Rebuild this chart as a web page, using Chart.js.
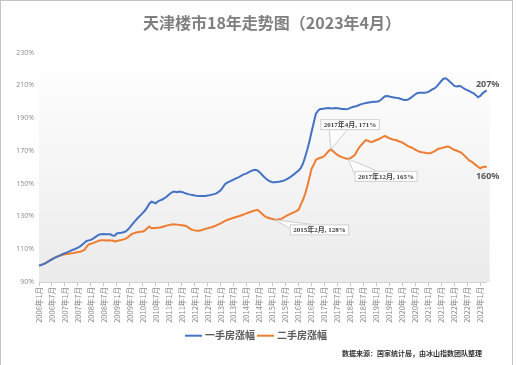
<!DOCTYPE html>
<html>
<head>
<meta charset="utf-8">
<script src="https://cdn.jsdelivr.net/npm/chart.js@4"></script>
<style>
  html, body { margin: 0; padding: 0; background: #fff; }
  #wrap { position: absolute; left: 0; top: 0; width: 513px; height: 366px; box-sizing: border-box; border: 1px solid #c4c4c4; }
  #box { position: relative; width: 511px; height: 364px; }
</style>
</head>
<body>
<div id="wrap"><div id="box"><canvas id="trendChart"></canvas></div></div>
<script>
// months 2006年1月 .. 2023年4月
var months = [];
for (var y = 2006; y <= 2023; y++) {
    for (var m = 1; m <= 12; m++) {
        if (y == 2023 && m > 4) break;
        months.push(y + "年" + m + "月");
    }
}

var yTicks = [90, 110, 130, 150, 170, 190, 210, 230];

// 一手房涨幅 (%), monthly, one row per year
var newHome = [
    100, 100.4, 100.9, 101.4, 102.2, 103, 103.8, 104.6, 105.2, 105.8, 106.4, 107.1,
    107.6, 108.1, 108.7, 109.3, 109.8, 110.4, 111, 111.7, 112.8, 114, 115, 115.4,
    115.7, 116.5, 117.4, 118.3, 119, 119.2, 119.3, 119.2, 119.2, 119.1, 118.4, 118.2,
    119.6, 119.9, 120.1, 120.4, 120.8, 121.8, 123.3, 125, 126.5, 128, 129.5, 130.8,
    132.2, 133.6, 135.5, 137.8, 139, 138.5, 138, 139.2, 139.8, 140.3, 141.2, 142,
    143.2, 144.3, 145, 145.1, 144.8, 145.2, 144.9, 144.5, 144, 143.6, 143.3, 143.1,
    142.8, 142.6, 142.5, 142.4, 142.5, 142.5, 142.7, 143, 143.3, 143.6, 144.1, 145,
    146, 147.7, 149.6, 150.6, 151.2, 151.8, 152.4, 153.2, 153.7, 154.5, 155.2, 155.8,
    156.3, 157, 157.6, 158.2, 158.4, 158.1, 157, 155.6, 154.2, 153, 152, 151.3,
    150.9, 150.8, 151, 151.2, 151.5, 151.8, 152.3, 153, 153.8, 154.8, 155.8, 157,
    157.9, 159.5, 162, 166, 170.5, 175.5, 181.5, 187, 192.5, 194.5, 195.5, 195.6,
    195.9, 196, 196.1, 195.8, 196, 196.1, 196, 195.8, 195.5, 195.6, 195.4, 195.6,
    196.2, 196.8, 197, 197.4, 198, 198.5, 198.8, 199.2, 199.4, 199.6, 199.8, 200,
    200, 200.2, 201, 202.2, 203.3, 203.5, 203.2, 202.8, 202.6, 202.4, 202.3, 201.8,
    201.3, 201, 201, 201.6, 202.5, 203.5, 204.5, 205.3, 205.5, 205.4, 205.5, 205.6,
    206, 206.8, 207.6, 208.2, 209.5, 211, 212.6, 214, 214.3, 213.4, 212.2, 211,
    209.6, 209.3, 209.6, 209.4, 208.5, 207.7, 207.1, 206.4, 205.7, 205.1, 204, 202.7,
    203.5, 205, 206, 207
];

// 二手房涨幅 (%)
var resale = [
    100, 100.4, 100.9, 101.6, 102.4, 103.2, 104, 104.7, 105.3, 105.8, 106.2, 106.6,
    106.9, 107.1, 107.3, 107.5, 107.7, 108, 108.3, 108.5, 109, 109.6, 111.5, 113,
    113.3, 113.7, 114.3, 114.8, 115.3, 115.4, 115.4, 115.3, 115.4, 115.3, 115.3, 114.7,
    115, 115.3, 115.6, 116, 116.3, 117.2, 118.3, 119.3, 119.8, 120.2, 120.5, 120.7,
    120.8, 121.5, 122.8, 123.8, 122.8, 122.9, 123, 123.1, 123.2, 123.6, 124, 124.4,
    124.7, 125, 125.2, 125.1, 125, 124.8, 124.6, 124.4, 124.2, 123.3, 122.3, 121.8,
    121.5, 121.2, 121.3, 121.6, 122, 122.4, 122.8, 123.2, 123.4, 124, 124.5, 125.2,
    125.8, 126.5, 127.3, 127.8, 128.3, 128.7, 129.2, 129.6, 129.9, 130.4, 130.9, 131.4,
    131.9, 132.4, 132.9, 133.3, 133.7, 134, 133, 131.8, 130.6, 129.6, 129.2, 128.7,
    128.5, 128, 128.1, 128.3, 128.5, 129.2, 130, 130.8, 131.4, 132, 132.6, 133.2,
    134, 137, 140, 143.5, 148.2, 153.5, 159, 161.5, 164.4, 165.3, 165.8, 166.1,
    167, 168.5, 170, 171, 169.8, 168.5, 167.6, 166.8, 166.2, 165.7, 165.3, 165,
    165.5, 166.5, 167.5, 169.8, 172, 173.6, 175, 176.6, 176.2, 175.6, 175.4, 176,
    176.6, 177.1, 177.8, 178.5, 179.1, 178.3, 177.7, 177.2, 176.8, 176.6, 176, 175.6,
    175, 174.2, 173.4, 172.6, 172.2, 171.5, 170.8, 170, 169.5, 169.2, 169, 168.7,
    168.5, 168.6, 169.2, 169.9, 170.7, 171.4, 171.6, 172, 172.3, 172.6, 172.2, 171.3,
    170.5, 170.2, 169.6, 169.1, 168, 166.7, 165.4, 164, 163.4, 162.4, 161.3, 160.3,
    159.4, 160, 160.4, 160
];

// callouts on the resale line: [month index, placement]
var callouts = [
    { idx: 135, dx: -10.7, dy: -30, a: -1.7, b: 16, side: "above" },
    { idx: 143, dx: 6.3, dy: 11.7, side: "right" },
    { idx: 109, dx: 15, dy: 4.7, side: "right" }
];

var BLUE = "#4472C4";
var ORANGE = "#ED7D31";
var CJK = "'Noto Sans CJK SC', 'Noto Sans', sans-serif";

Chart.defaults.font.family = CJK;

var decorPlugin = {
    id: "decor",
    beforeDatasetsDraw: function(chart) {
        var ctx = chart.ctx, a = chart.chartArea;
        var g = ctx.createLinearGradient(0, a.top, 0, a.bottom);
        g.addColorStop(0, "#ffffff");
        g.addColorStop(1, "#ebebeb");
        ctx.save();
        ctx.fillStyle = g;
        ctx.fillRect(a.left, a.top - 8, a.right - a.left + 3, a.bottom - a.top + 8);
        ctx.restore();
    },
    afterDraw: function(chart) {
        var ctx = chart.ctx;
        var xs = chart.scales.x, ys = chart.scales.y;
        ctx.save();

        // title
        ctx.fillStyle = "#7f7f7f";
        ctx.font = "bold 16px " + CJK;
        ctx.textAlign = "center";
        ctx.textBaseline = "middle";
        ctx.fillText("天津楼市18年走势图（2023年4月）", 271, 22);

        // end labels
        var last = newHome.length - 1;
        ctx.fillStyle = "#595959";
        ctx.font = "bold 9px 'Noto Sans', sans-serif";
        ctx.fillText(newHome[last] + "%", xs.getPixelForValue(last) + 1, ys.getPixelForValue(newHome[last]) - 6);
        ctx.fillText(resale[last] + "%", xs.getPixelForValue(last) + 1, ys.getPixelForValue(resale[last]) + 9);

        // callouts
        ctx.font = "bold 7px 'Liberation Serif', " + CJK;
        callouts.forEach(function(c) {
            var px = xs.getPixelForValue(c.idx), py = ys.getPixelForValue(resale[c.idx]);
            var text = months[c.idx] + ", " + resale[c.idx] + "%";
            var w = ctx.measureText(text).width + 7, h = 11;
            var bx = px + c.dx, by = py + c.dy;
            var p1, p2;
            if (c.side == "above") {
                p1 = [px + c.a, by + h];
                p2 = [px + c.b, by + h];
            } else {
                p1 = [bx, by + 4];
                p2 = [bx + 22, by];
            }
            ctx.beginPath();
            ctx.moveTo(p1[0], p1[1]);
            ctx.lineTo(px, py);
            ctx.lineTo(p2[0], p2[1]);
            ctx.fillStyle = "rgba(255,255,255,0.7)";
            ctx.fill();
            ctx.strokeStyle = "#c3c3c3";
            ctx.lineWidth = 0.8;
            ctx.stroke();
            ctx.fillStyle = "#ffffff";
            ctx.fillRect(bx, by, w, h);
            ctx.strokeRect(bx + 0.5, by + 0.5, w - 1, h - 1);
            ctx.fillStyle = "#404040";
            ctx.textAlign = "left";
            ctx.fillText(text, bx + 3.5, by + h / 2 + 0.5);
        });

        // legend
        var ly = 334.7;
        ctx.lineWidth = 2;
        ctx.strokeStyle = BLUE;
        ctx.beginPath(); ctx.moveTo(184, ly); ctx.lineTo(201, ly); ctx.stroke();
        ctx.strokeStyle = ORANGE;
        ctx.beginPath(); ctx.moveTo(256, ly); ctx.lineTo(273, ly); ctx.stroke();
        ctx.fillStyle = "#595959";
        ctx.font = "bold 10px " + CJK;
        ctx.textAlign = "left";
        ctx.fillText("一手房涨幅", 204, ly);
        ctx.fillText("二手房涨幅", 276, ly);

        // source
        ctx.fillStyle = "#333333";
        ctx.font = "bold 7px " + CJK;
        ctx.textAlign = "right";
        ctx.fillText("数据来源：国家统计局，由冰山指数团队整理", 481, 352);
        ctx.restore();
    }
};

var trendChart = new Chart(document.getElementById("trendChart"), {
    type: "line",
    data: {
        labels: months,
        datasets: [{
            label: "一手房涨幅",
            data: newHome,
            borderColor: BLUE,
            borderWidth: 2,
            pointRadius: 0,
            fill: false,
            tension: 0
        }, {
            label: "二手房涨幅",
            data: resale,
            borderColor: ORANGE,
            borderWidth: 2,
            pointRadius: 0,
            fill: false,
            tension: 0
        }]
    },
    options: {
        responsive: true,
        maintainAspectRatio: false,
        animation: false,
        layout: { padding: { top: 51.5, right: 25.3, left: 0, bottom: 0 } },
        plugins: {
            legend: { display: false },
            tooltip: { enabled: false }
        },
        scales: {
            x: {
                grid: {
                    drawOnChartArea: false,
                    drawTicks: true,
                    tickLength: 4,
                    tickColor: function(c) { return c.index % 6 === 0 ? "#c8c8c8" : "rgba(0,0,0,0)"; }
                },
                border: { color: "#d0d0d0" },
                ticks: {
                    autoSkip: false,
                    minRotation: 90,
                    maxRotation: 90,
                    padding: 1,
                    color: "#8c8c8c",
                    font: { size: 7.5 },
                    callback: function(val, index) {
                        return index % 6 === 0 ? this.getLabelForValue(val) : "";
                    }
                },
                afterFit: function(scale) { scale.height = 83; }
            },
            y: {
                min: yTicks[0],
                max: yTicks[yTicks.length - 1],
                afterBuildTicks: function(scale) {
                    scale.ticks = yTicks.map(function(v) { return { value: v }; });
                },
                grid: { display: false, drawTicks: false },
                border: { display: false },
                ticks: {
                    padding: 5,
                    color: "#8c8c8c",
                    font: { size: 7, family: "'Open Sans', sans-serif" },
                    callback: function(v) { return v + "%"; }
                },
                afterFit: function(scale) { scale.width = 38; }
            }
        }
    },
    plugins: [decorPlugin]
});
</script>
</body>
</html>
